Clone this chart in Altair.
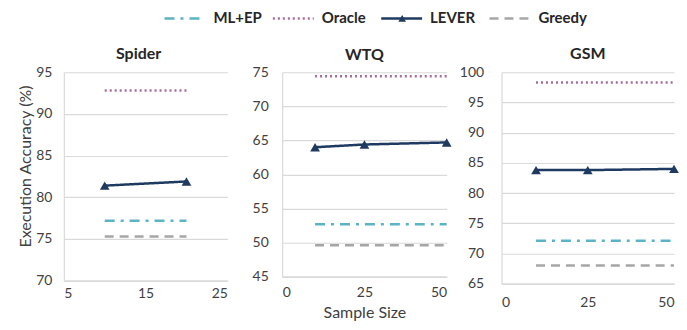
import altair as alt
import pandas as pd

# ---- data ----
series = ["ML+EP", "Oracle", "LEVER", "Greedy"]

spider_sizes = [10, 20]
spider_mlep = [77.2, 77.2]
spider_oracle = [92.8, 92.8]
spider_lever = [81.4, 81.9]
spider_greedy = [75.3, 75.3]

wtq_sizes = [10, 25, 50]
wtq_mlep = [52.7, 52.7, 52.7]
wtq_oracle = [74.4, 74.4, 74.4]
wtq_lever = [64.0, 64.4, 64.7]
wtq_greedy = [49.6, 49.6, 49.6]

gsm_sizes = [10, 25, 50]
gsm_mlep = [72.1, 72.1, 72.1]
gsm_oracle = [98.3, 98.3, 98.3]
gsm_lever = [83.8, 83.8, 84.0]
gsm_greedy = [68.0, 68.0, 68.0]

spider_xticks = [5, 15, 25]
wtq_xticks = [0, 25, 50]
gsm_xticks = [0, 25, 50]
spider_yticks = [70, 75, 80, 85, 90, 95]
wtq_yticks = [45, 50, 55, 60, 65, 70, 75]
gsm_yticks = [65, 70, 75, 80, 85, 90, 95, 100]

# ---- styles ----
COLORS = ["#5AB4C5", "#A66C98", "#1F3A60", "#A6A6A6"]
DASHES = [[10, 6, 3, 6], [2, 3], [1, 0], [9, 6]]
FONT = "Lato"
GRID = "#D9D9D9"


def long_df(sizes, mlep, oracle, lever, greedy):
    rows = []
    for name, vals in zip(series, [mlep, oracle, lever, greedy]):
        for s, v in zip(sizes, vals):
            rows.append({"size": s, "series": name, "value": v})
    return pd.DataFrame(rows)


color_scale = alt.Scale(domain=series, range=COLORS)
dash_scale = alt.Scale(domain=series, range=DASHES)


def panel(title, df, xticks, yticks, w, h, xpad, ypad, ytitle=None, xtitle=None,
          extra=None, title_dy=0, title_dx=0):
    xkw = dict(values=xticks, grid=False, ticks=False, domainColor=GRID,
               domainWidth=1.5, labelPadding=xpad, labelFontSize=14,
               titleFontSize=16, titleFontWeight="normal", titlePadding=5)
    ykw = dict(values=yticks, ticks=False, grid=True, gridColor=GRID,
               gridWidth=1.2, domainColor=GRID, domainWidth=1.2,
               labelPadding=ypad, labelFontSize=14, titleFontSize=16,
               titleFontWeight="normal", titlePadding=2)
    xaxis = alt.Axis(title=xtitle, **xkw) if xtitle else alt.Axis(title=None, **xkw)
    yaxis = alt.Axis(title=ytitle, titleY=94, **ykw) if ytitle else alt.Axis(title=None, **ykw)
    x = alt.X("size:Q", scale=alt.Scale(domain=[xticks[0], xticks[-1]], nice=False, zero=False), axis=xaxis)
    y = alt.Y("value:Q", scale=alt.Scale(domain=[yticks[0], yticks[-1]], nice=False, zero=False), axis=yaxis)
    lines = alt.Chart(df).mark_line(strokeWidth=2.5).encode(
        x=x, y=y,
        color=alt.Color("series:N", scale=color_scale, legend=None),
        strokeDash=alt.StrokeDash("series:N", scale=dash_scale, legend=None),
        detail="series:N",
    )
    pts = alt.Chart(df).transform_filter(alt.datum.series == "LEVER").mark_point(
        shape="triangle-up", filled=True, size=95, opacity=1, color=COLORS[2]
    ).encode(x=x, y=y)
    body = alt.layer(lines, pts)
    if extra is not None:
        body = alt.layer(body, extra).resolve_scale(x="independent")
    tkw = {}
    if title_dy:
        tkw["dy"] = title_dy
    if title_dx:
        tkw["dx"] = title_dx
    return body.properties(title=alt.TitleParams(title, **tkw), width=w, height=h)


# ---- legend (drawn above the middle panel) ----
leg_df = pd.DataFrame({"series": series})
lx = alt.X("series:N", scale=alt.Scale(type="point", domain=series, range=[-69, 257], padding=0), axis=None)
leg_rule = alt.Chart(leg_df).mark_rule(strokeWidth=2.5, xOffset=-49, x2Offset=-8).encode(
    x=lx, x2=alt.X2("series"), y=alt.value(-54),
    color=alt.Color("series:N", scale=color_scale, legend=None),
    strokeDash=alt.StrokeDash("series:N", scale=dash_scale, legend=None),
)
leg_tri = alt.Chart(leg_df).transform_filter(alt.datum.series == "LEVER").mark_point(
    shape="triangle-up", filled=True, size=60, opacity=1, color=COLORS[2], xOffset=-28
).encode(x=lx, y=alt.value(-54))
leg_text = alt.Chart(leg_df).mark_text(align="left", baseline="middle", fontSize=15,
                                       fontWeight="bold", font=FONT, color="#262626").encode(
    x=lx, y=alt.value(-54), text="series:N")
legend = alt.layer(leg_rule, leg_tri, leg_text)

p1 = panel("Spider", long_df(spider_sizes, spider_mlep, spider_oracle, spider_lever, spider_greedy),
           spider_xticks, spider_yticks, 164, 209, 6, 12, ytitle="Execution Accuracy (%)", title_dx=-7)
p2 = panel("WTQ", long_df(wtq_sizes, wtq_mlep, wtq_oracle, wtq_lever, wtq_greedy),
           wtq_xticks, wtq_yticks, 165, 205, 9, 14, xtitle="Sample Size", extra=legend, title_dy=55)
p3 = panel("GSM", long_df(gsm_sizes, gsm_mlep, gsm_oracle, gsm_lever, gsm_greedy),
           gsm_xticks, gsm_yticks, 173, 212, 12, 18)

chart = alt.hconcat(p1, p2, p3, spacing=55, bounds="flush").properties(
    padding={"left": 9, "top": 3, "right": 0, "bottom": 0}
).configure_view(stroke=None).configure_axis(
    labelFont=FONT, titleFont=FONT, labelColor="#404040", titleColor="#404040"
).configure_title(
    font=FONT, fontSize=16, fontWeight="bold", color="#262626", offset=3
)

chart.save("out.html", embed_options={"renderer": "svg", "actions": False})
